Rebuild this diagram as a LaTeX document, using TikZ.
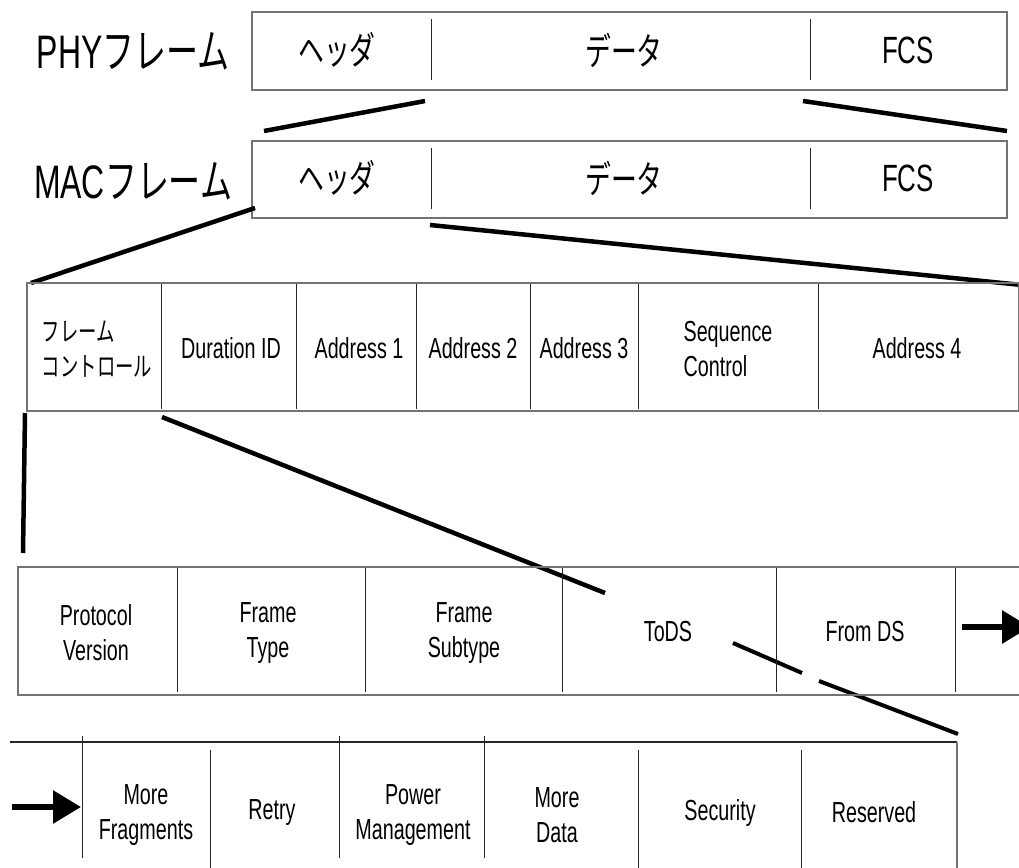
\documentclass[tikz,border=0pt]{standalone}
\usepackage{fontspec}
\setmainfont[FakeStretch=0.68]{Liberation Sans}
\newfontfamily\jp[FakeStretch=0.68]{Noto Sans CJK JP}
\newcommand{\J}[1]{{\jp #1}}
\usetikzlibrary{arrows.meta}
\tikzset{
  box/.style={draw=black!55, line width=1.8pt, inner sep=0pt, rectangle},
  div/.style={draw=black!85, line width=1pt},
  conn/.style={draw=black, line width=4.5pt},
  fat/.style={draw=black, line width=6pt, -{Triangle[length=28pt,width=32pt]}},
  big/.style={font=\fontsize{47}{52}\selectfont, inner sep=0pt},
  mid/.style={font=\fontsize{38}{42}\selectfont, inner sep=0pt},
  cell/.style={font=\fontsize{29}{35}\selectfont, align=center, inner sep=0pt},
  jcell/.style={font=\fontsize{27}{35}\selectfont, align=left, inner sep=0pt},
}
\begin{document}
\begin{tikzpicture}[x=1pt,y=-1pt]
\useasboundingbox (0,0) rectangle (1019,867);
\clip (0,0) rectangle (1019,867);

% ---------- PHY frame ----------
\node[big] (phylbl) at (133,51) {PHY\J{フレーム}};
\node[box, anchor=north west, minimum width=755pt, minimum height=78pt] (phy) at (251,11) {};
\draw[div] (431,19) -- (431,80);
\draw[div] (810,19) -- (810,80);
\node[mid] (phyh) at (337,50) {\J{ヘッダ}};
\node[mid] (phyd) at (624,50) {\J{データ}};
\node[mid] (phyf) at (908,50) {FCS};

% ---------- MAC frame ----------
\node[big] (maclbl) at (133,181) {MAC\J{フレーム}};
\node[box, anchor=north west, minimum width=755pt, minimum height=77pt] (mac) at (251,140) {};
\draw[div] (431,148) -- (431,209);
\draw[div] (810,148) -- (810,209);
\node[mid] (mach) at (337,178) {\J{ヘッダ}};
\node[mid] (macd) at (624,178) {\J{データ}};
\node[mid] (macf) at (908,178) {FCS};

% connectors PHY -> MAC
\coordinate (p1) at (425,101);
\coordinate (p2) at (264,131);
\coordinate (p3) at (803,101);
\coordinate (p4) at (1007,131);
\draw[conn] (p1) -- (p2);
\draw[conn] (p3) -- (p4);

% connectors MAC header -> header fields
\coordinate (m1) at (255,208);
\coordinate (m2) at (31,283);
\coordinate (m3) at (430,225);
\coordinate (m4) at (1022,285);
\draw[conn] (m1) -- (m2);
\draw[conn] (m3) -- (m4);

% ---------- header fields ----------
\node[box, anchor=north west, minimum width=992pt, minimum height=128pt] (hdr) at (26,282) {};
\foreach \x in {161,296,416,530,638,818} \draw[div] (\x,284) -- (\x,409);
\node[jcell] (fc) at (97,349) {\J{フレーム}\\\J{コントロール}};
\node[cell] (dur) at (231,348) {Duration ID};
\node[cell] (ad1) at (359,348) {Address 1};
\node[cell] (ad2) at (473,348) {Address 2};
\node[cell] (ad3) at (584,348) {Address 3};
\node[cell, align=left] (seq) at (728,349) {Sequence\\Control};
\node[cell] (ad4) at (917,348) {Address 4};

% connectors frame control -> subfields
\coordinate (f1) at (25,413);
\coordinate (f2) at (23,553);
\coordinate (f3) at (162,417);
\coordinate (f4) at (605,593);
\coordinate (f5) at (733,643);
\coordinate (f6) at (802,673);
\coordinate (f7) at (819,681);
\coordinate (f8) at (958,734);
\draw[conn] (f1) -- (f2);
\draw[conn] (f3) -- (f4);
\draw[conn, line width=4pt] (f5) -- (f6);
\draw[conn, line width=4pt] (f7) -- (f8);

% ---------- frame control, first row ----------
\node[box, anchor=north west, minimum width=1040pt, minimum height=128pt] (fcr1) at (17,566) {};
\foreach \x in {177,365,562,776,955} \draw[div] (\x,568) -- (\x,692);
\node[cell] (pv) at (96,633) {Protocol\\Version};
\node[cell] (ft) at (268,633) {Frame\\Type};
\node[cell] (fst) at (464,633) {Frame\\Subtype};
\node[cell] (tods) at (668,632) {ToDS};
\node[cell] (fromds) at (865,632) {From DS};
\coordinate (r1) at (962,627);
\coordinate (r2) at (1030,627);
\draw[fat] (r1) -- (r2);

% ---------- frame control, second row ----------
\coordinate (s1) at (10,742);
\coordinate (s2) at (957,742);
\coordinate (s3) at (957,880);
\draw[black!85, line width=1.2pt] (s1) -- (s2);
\draw[black!55, line width=1.8pt] (s2) -- (s3);
\foreach \x in {82,339,484} \draw[div] (\x,736) -- (\x,858);
\foreach \x in {210,638,801} \draw[div] (\x,750) -- (\x,870);
\coordinate (l1) at (12,807);
\coordinate (l2) at (81,807);
\draw[fat] (l1) -- (l2);
\node[cell] (mf) at (146,815) {More\\Fragments};
\node[cell] (rt) at (272,813) {Retry};
\node[cell] (pm) at (413,815) {Power\\Management};
\node[cell] (md) at (557,815) {More\\Data};
\node[cell] (sec) at (720,813) {Security};
\node[cell] (res) at (874,812) {Reserved};
\end{tikzpicture}
\end{document}
